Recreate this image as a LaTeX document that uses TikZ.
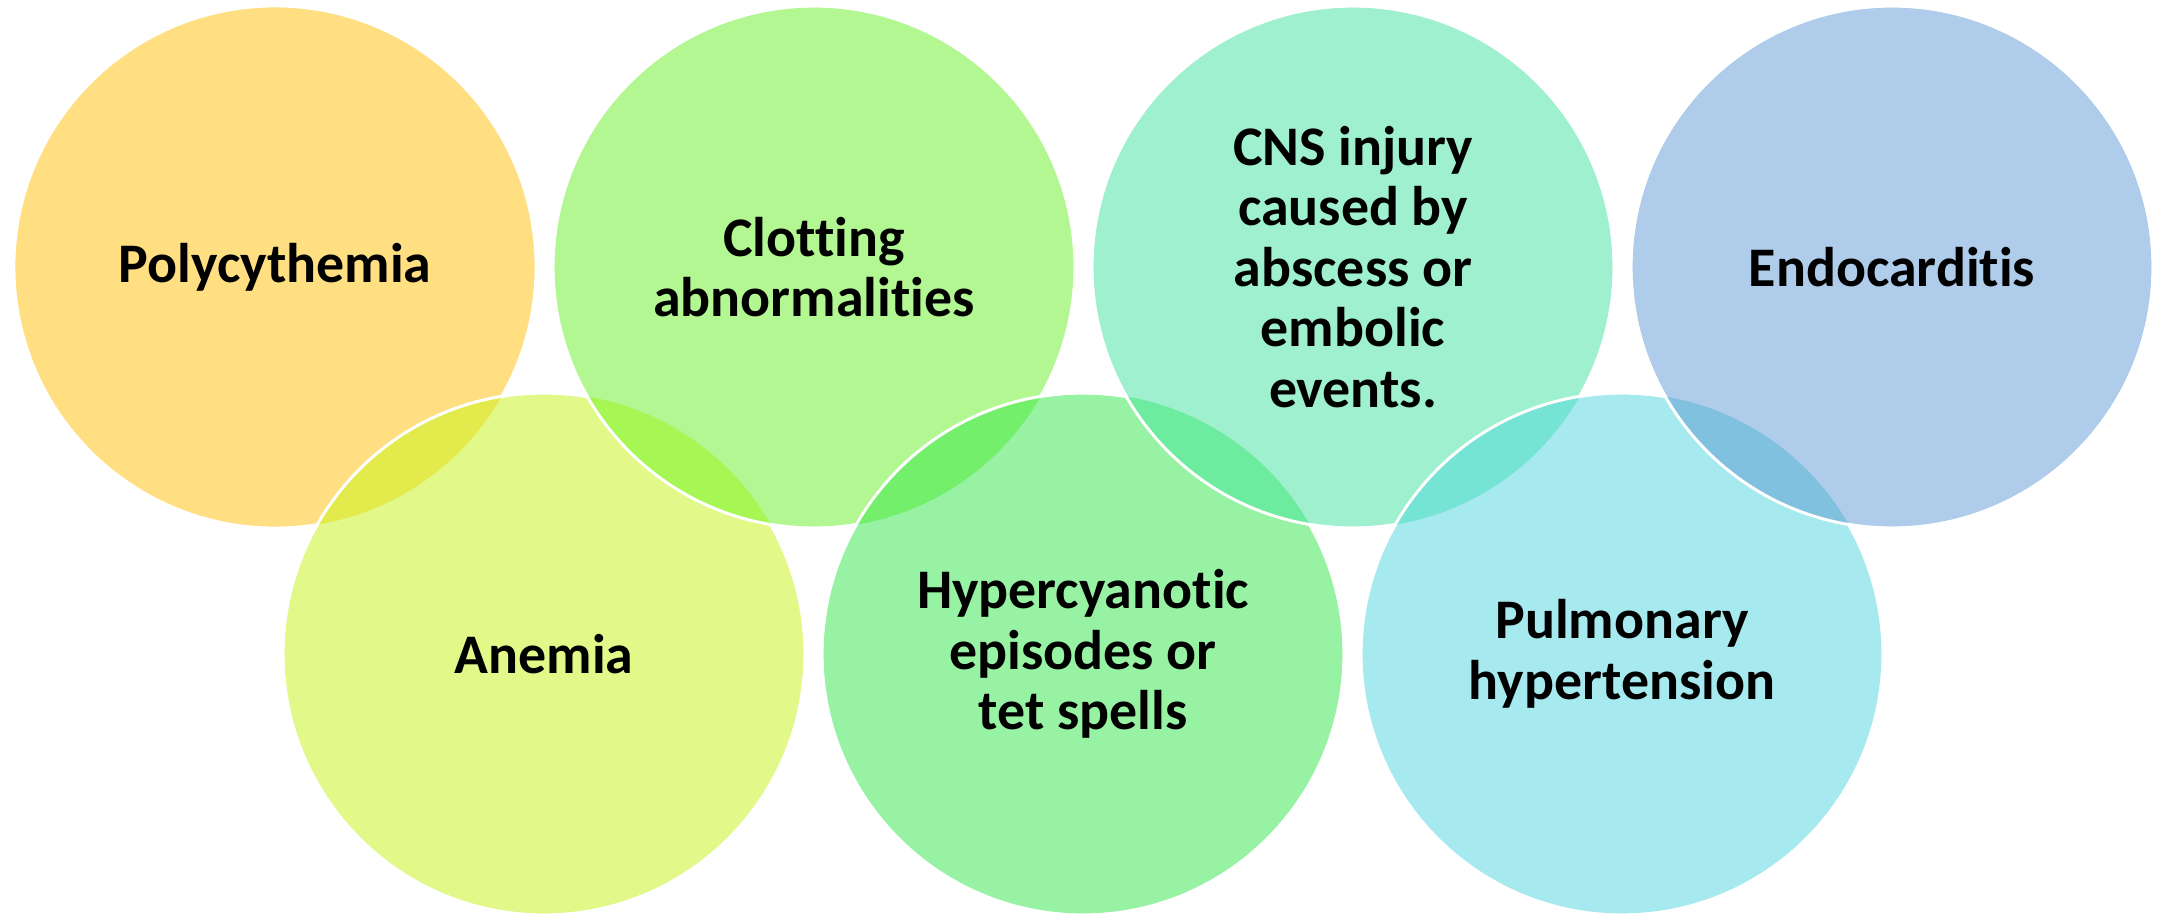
\documentclass[tikz,border=0pt]{standalone}
\usepackage{fontspec}
\setmainfont{Carlito}[Ligatures=CommonOff]
\usetikzlibrary{positioning}

\definecolor{polyc}{HTML}{FFDF82}
\definecolor{anemc}{HTML}{E2F98A}
\definecolor{clotc}{HTML}{B3F792}
\definecolor{hyperc}{HTML}{98F2A4}
\definecolor{cnsc}{HTML}{9EF0CE}
\definecolor{pulmc}{HTML}{A6EAEF}
\definecolor{endoc}{HTML}{AFCDEA}
% overlaps
\definecolor{polyanem}{HTML}{E2EA4C}
\definecolor{anemclot}{HTML}{A6F654}
\definecolor{clothyper}{HTML}{74EF6B}
\definecolor{hypercns}{HTML}{6DEB9F}
\definecolor{cnspulm}{HTML}{76E4D4}
\definecolor{pulmendo}{HTML}{80C1E0}

\begin{document}
\begin{tikzpicture}[
    bubble/.style={circle, draw=white, line width=0.8pt, minimum size=5.22cm, inner sep=0pt,
      align=center, font=\bfseries\fontsize{15.9}{17.2}\selectfont},
    rim/.style={draw=white, line width=0.8pt}]
    \useasboundingbox (0,0) rectangle (21.6,9.17);

    \node[bubble, fill=polyc] (poly) at (2.75,6.50) {Polycythemia};

    \node[bubble, fill=anemc] (anem) at (5.44,2.63) {Anemia};
    \begin{scope}
        \clip (poly.center) circle (2.61);
        \fill[polyanem] (anem.center) circle (2.61);
    \end{scope}
    \draw[rim] (anem.center) circle (2.61);

    \node[bubble, fill=clotc] (clot) at (8.14,6.50) {Clotting\\abnormalities};
    \begin{scope}
        \clip (anem.center) circle (2.61);
        \fill[anemclot] (clot.center) circle (2.61);
    \end{scope}
    \draw[rim] (clot.center) circle (2.61);

    \node[bubble, fill=hyperc] (hyper) at (10.83,2.63) {Hypercyanotic\\episodes or\\tet spells};
    \begin{scope}
        \clip (clot.center) circle (2.61);
        \fill[clothyper] (hyper.center) circle (2.61);
    \end{scope}
    \draw[rim] (hyper.center) circle (2.61);

    \node[bubble, fill=cnsc] (cns) at (13.53,6.50) {CNS injury\\caused by\\abscess or\\embolic\\events.};
    \begin{scope}
        \clip (hyper.center) circle (2.61);
        \fill[hypercns] (cns.center) circle (2.61);
    \end{scope}
    \draw[rim] (cns.center) circle (2.61);

    \node[bubble, fill=pulmc] (pulm) at (16.22,2.63) {Pulmonary\\hypertension};
    \begin{scope}
        \clip (cns.center) circle (2.61);
        \fill[cnspulm] (pulm.center) circle (2.61);
    \end{scope}
    \draw[rim] (pulm.center) circle (2.61);

    \node[bubble, fill=endoc] (endo) at (18.92,6.50) {Endocarditis};
    \begin{scope}
        \clip (pulm.center) circle (2.61);
        \fill[pulmendo] (endo.center) circle (2.61);
    \end{scope}
    \draw[rim] (endo.center) circle (2.61);
\end{tikzpicture}
\end{document}
